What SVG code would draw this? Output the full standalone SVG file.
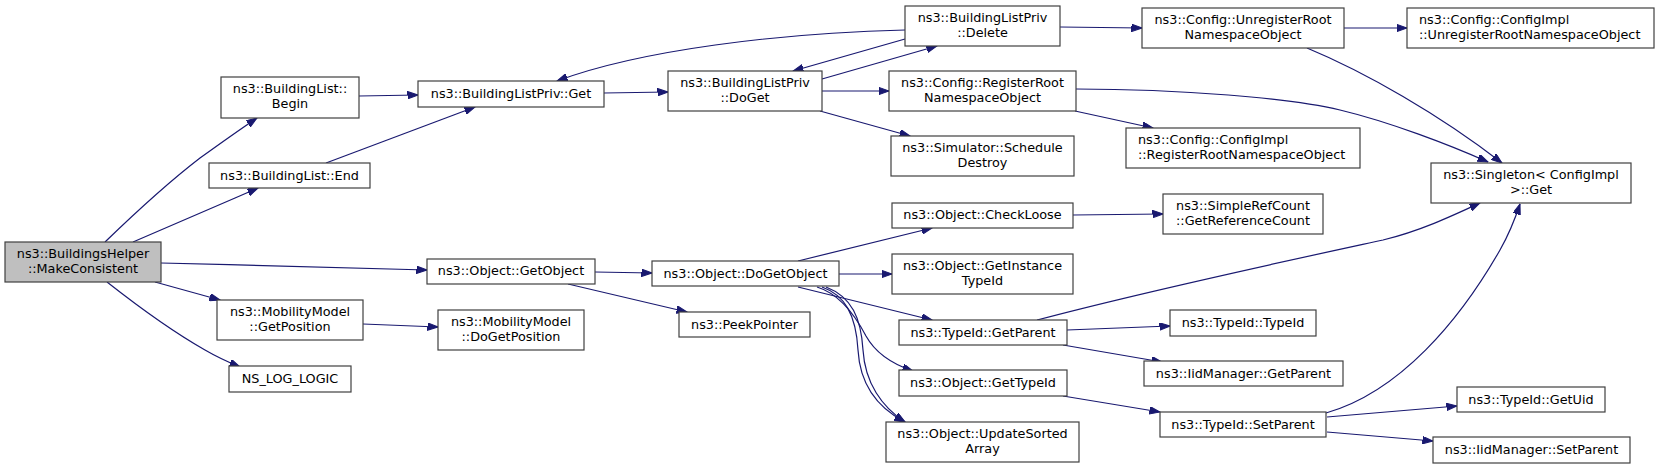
<svg xmlns="http://www.w3.org/2000/svg" width="1660" height="469" viewBox="0 0 1660 469">
<style>
.n rect{fill:#ffffff;stroke:#404040;stroke-width:1.2}
.n.g rect{fill:#bfbfbf}
.n text{font-family:"DejaVu Sans","Liberation Sans",sans-serif;font-size:12.8px;fill:#000;text-anchor:middle}
.n text.l{text-anchor:start}
.e path{fill:none;stroke:#191970;stroke-width:1.2;marker-end:url(#ah)}
</style>
<defs>
<marker id="ah" markerUnits="userSpaceOnUse" markerWidth="11" markerHeight="8" refX="10.5" refY="3.75" orient="auto">
<path d="M0,0 L10.5,3.75 L0,7.5 z" fill="#191970" stroke="#191970" stroke-width="1"/>
</marker>
</defs>
<rect width="1660" height="469" fill="#ffffff"/>
<g class="e">
<path d="M105,242 C135,213 170,181 200,158 C218,145 236,132 257,118"/>
<path d="M133,242 C170,226 215,207 258,188"/>
<path d="M161,263 C250,265 340,268 427,270"/>
<path d="M155,282 L220,300"/>
<path d="M107,282 C135,304 175,333 205,350 C217,357 228,362 240,367"/>
<path d="M359,96 L418,95"/>
<path d="M326,163 L475,107"/>
<path d="M604,93 L668,92"/>
<path d="M905,30 C780,33 640,50 557,81"/>
<path d="M905,39 L793,71"/>
<path d="M822,79 L937,46"/>
<path d="M822,91 L889,91"/>
<path d="M820,111 L910,136"/>
<path d="M1060,27 L1142,28"/>
<path d="M1344,28 L1407,28"/>
<path d="M1307,48 C1365,72 1440,115 1502,163"/>
<path d="M1076,89 C1180,89 1290,98 1340,110 C1390,122 1450,145 1488,162"/>
<path d="M1075,111 L1153,128"/>
<path d="M1037,320 C1150,290 1300,258 1383,240 C1420,231 1452,216 1480,203"/>
<path d="M1326,413 C1400,392 1460,320 1500,250 C1508,236 1514,222 1520,204"/>
<path d="M595,272 L652,273"/>
<path d="M568,284 L687,312"/>
<path d="M363,324 L438,327"/>
<path d="M798,261 L932,228"/>
<path d="M839,274 L892,274"/>
<path d="M798,287 L932,320"/>
<path d="M817,287 C840,294 855,315 866,336 C876,354 892,364 913,371"/>
<path d="M822,287 C845,295 856,315 858,350 C860,385 878,408 905,422"/>
<path d="M826,287 C852,297 861,318 863,350 C865,383 882,407 905,422"/>
<path d="M1067,330 L1170,326"/>
<path d="M1063,345 L1162,362"/>
<path d="M1063,396 L1160,412"/>
<path d="M1073,215 L1163,214"/>
<path d="M1327,417 L1457,406"/>
<path d="M1327,432 L1433,441"/>
</g>
<g id="n_makeconsistent" class="n g"><rect x="5" y="242" width="156" height="40"/><text x="83" y="258">ns3::BuildingsHelper</text><text x="83" y="273">::MakeConsistent</text></g>
<g id="n_begin" class="n"><rect x="221" y="77" width="138" height="41"/><text x="290" y="93">ns3::BuildingList::</text><text x="290" y="108">Begin</text></g>
<g id="n_end" class="n"><rect x="209" y="163" width="161" height="25"/><text x="289.5" y="180">ns3::BuildingList::End</text></g>
<g id="n_getposition" class="n"><rect x="217" y="300" width="146" height="40"/><text x="290" y="316">ns3::MobilityModel</text><text x="290" y="331">::GetPosition</text></g>
<g id="n_nslog" class="n"><rect x="229" y="366" width="122" height="26"/><text x="290" y="383">NS_LOG_LOGIC</text></g>
<g id="n_blpget" class="n"><rect x="418" y="81" width="186" height="26"/><text x="511" y="98">ns3::BuildingListPriv::Get</text></g>
<g id="n_doget" class="n"><rect x="668" y="71" width="154" height="40"/><text x="745" y="87">ns3::BuildingListPriv</text><text x="745" y="102">::DoGet</text></g>
<g id="n_delete" class="n"><rect x="905" y="6" width="155" height="40"/><text x="982.5" y="22">ns3::BuildingListPriv</text><text x="982.5" y="37">::Delete</text></g>
<g id="n_unregroot" class="n"><rect x="1142" y="8" width="202" height="40"/><text x="1243" y="24">ns3::Config::UnregisterRoot</text><text x="1243" y="39">NamespaceObject</text></g>
<g id="n_implunreg" class="n"><rect x="1407" y="8" width="247" height="40"/><text class="l" x="1419" y="24">ns3::Config::ConfigImpl</text><text class="l" x="1419" y="39">::UnregisterRootNamespaceObject</text></g>
<g id="n_regroot" class="n"><rect x="889" y="71" width="187" height="40"/><text x="982.5" y="87">ns3::Config::RegisterRoot</text><text x="982.5" y="102">NamespaceObject</text></g>
<g id="n_schedule" class="n"><rect x="891" y="136" width="183" height="40"/><text x="982.5" y="152">ns3::Simulator::Schedule</text><text x="982.5" y="167">Destroy</text></g>
<g id="n_implreg" class="n"><rect x="1126" y="128" width="234" height="40"/><text class="l" x="1138" y="144">ns3::Config::ConfigImpl</text><text class="l" x="1138" y="159">::RegisterRootNamespaceObject</text></g>
<g id="n_singleton" class="n"><rect x="1431" y="163" width="200" height="40"/><text x="1531" y="179">ns3::Singleton&lt; ConfigImpl</text><text x="1531" y="194">&gt;::Get</text></g>
<g id="n_getobject" class="n"><rect x="427" y="259" width="168" height="25"/><text x="511" y="275">ns3::Object::GetObject</text></g>
<g id="n_dogetobject" class="n"><rect x="652" y="261" width="187" height="25"/><text x="745.5" y="278">ns3::Object::DoGetObject</text></g>
<g id="n_dogetposition" class="n"><rect x="438" y="310" width="146" height="40"/><text x="511" y="326">ns3::MobilityModel</text><text x="511" y="341">::DoGetPosition</text></g>
<g id="n_peek" class="n"><rect x="679" y="312" width="131" height="25"/><text x="744.5" y="329">ns3::PeekPointer</text></g>
<g id="n_checkloose" class="n"><rect x="892" y="203" width="181" height="25"/><text x="982.5" y="219">ns3::Object::CheckLoose</text></g>
<g id="n_refcount" class="n"><rect x="1163" y="194" width="160" height="40"/><text x="1243" y="210">ns3::SimpleRefCount</text><text x="1243" y="225">::GetReferenceCount</text></g>
<g id="n_instancetid" class="n"><rect x="892" y="254" width="181" height="40"/><text x="982.5" y="270">ns3::Object::GetInstance</text><text x="982.5" y="285">TypeId</text></g>
<g id="n_tidgetparent" class="n"><rect x="899" y="320" width="168" height="25"/><text x="983" y="337">ns3::TypeId::GetParent</text></g>
<g id="n_tidtid" class="n"><rect x="1170" y="310" width="146" height="26"/><text x="1243" y="327">ns3::TypeId::TypeId</text></g>
<g id="n_iidgetparent" class="n"><rect x="1144" y="361" width="199" height="25"/><text x="1243.5" y="378">ns3::IidManager::GetParent</text></g>
<g id="n_gettypeid" class="n"><rect x="899" y="370" width="168" height="26"/><text x="983" y="387">ns3::Object::GetTypeId</text></g>
<g id="n_setparent" class="n"><rect x="1160" y="412" width="166" height="25"/><text x="1243" y="429">ns3::TypeId::SetParent</text></g>
<g id="n_updatesorted" class="n"><rect x="886" y="422" width="193" height="40"/><text x="982.5" y="438">ns3::Object::UpdateSorted</text><text x="982.5" y="453">Array</text></g>
<g id="n_getuid" class="n"><rect x="1457" y="387" width="148" height="25"/><text x="1531" y="404">ns3::TypeId::GetUid</text></g>
<g id="n_iidsetparent" class="n"><rect x="1433" y="437" width="197" height="26"/><text x="1531.5" y="454">ns3::IidManager::SetParent</text></g>
</svg>
